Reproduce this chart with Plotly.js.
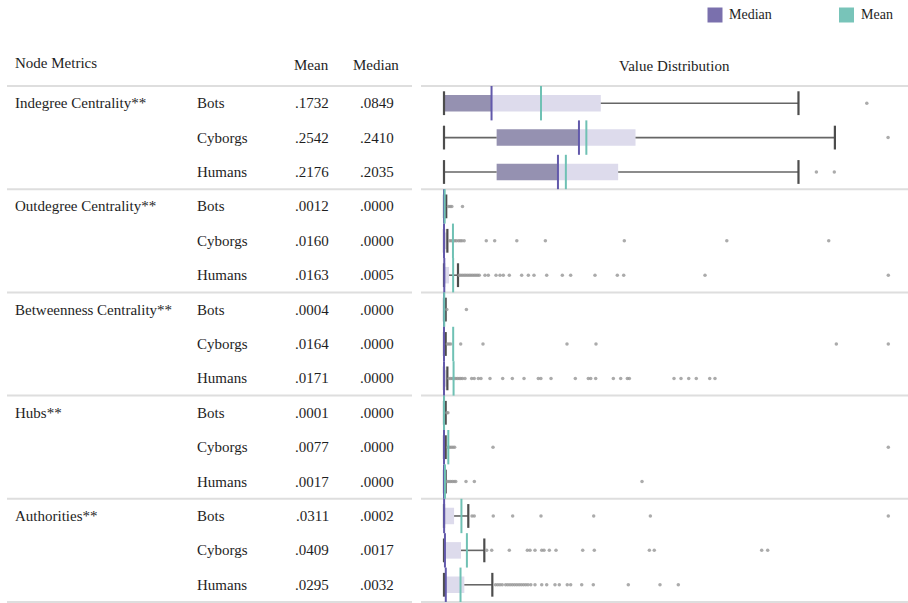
<!DOCTYPE html>
<html>
<head>
<meta charset="utf-8">
<script src="https://cdn.plot.ly/plotly-3.0.1.min.js"></script>
<style>html,body{margin:0;padding:0;background:#fff;}#chart{width:908px;height:603px;}</style>
</head>
<body>
<div id="chart"></div>
<script>
// ---------- DATA ----------
const metrics = ["Indegree Centrality**", "Outdegree Centrality**", "Betweenness Centrality**", "Hubs**", "Authorities**"];
const groups = ["Bots", "Cyborgs", "Humans"];
const headers = ["Node Metrics", "Mean", "Median", "Value Distribution"];
const legendLabels = ["Median", "Mean"];

const means = [
  [0.1732, 0.2542, 0.2176],
  [0.0012, 0.0160, 0.0163],
  [0.0004, 0.0164, 0.0171],
  [0.0001, 0.0077, 0.0017],
  [0.0311, 0.0409, 0.0295]
];
const medians = [
  [0.0849, 0.2410, 0.2035],
  [0.0000, 0.0000, 0.0005],
  [0.0000, 0.0000, 0.0000],
  [0.0000, 0.0000, 0.0000],
  [0.0002, 0.0017, 0.0032]
];
const q1 = [
  [0.000, 0.094, 0.094],
  [0, 0, 0],
  [0, 0, 0],
  [0, 0, 0],
  [0, 0, 0]
];
const q3 = [
  [0.280, 0.342, 0.311],
  [0.004, 0.006, 0.009],
  [0.003, 0.003, 0.006],
  [0.003, 0.003, 0.003],
  [0.018, 0.0304, 0.0363]
];
const whiskerLow = [
  [0, 0, 0],
  [0, 0, 0],
  [0, 0, 0],
  [0, 0, 0],
  [0, 0, 0]
];
const whiskerHigh = [
  [0.633, 0.698, 0.633],
  [0.004, 0.006, 0.025],
  [0.003, 0.003, 0.006],
  [0.003, 0.003, 0.003],
  [0.0434, 0.072, 0.0863]
];
const outliers = [
  [ // Indegree
    [0.755],
    [0.793],
    [0.665, 0.697]
  ],
  [ // Outdegree
    [0.008, 0.011, 0.014, 0.033],
    [0.010, 0.013, 0.016, 0.019, 0.022, 0.026, 0.029, 0.032, 0.036, 0.0755, 0.0905, 0.130, 0.181, 0.322, 0.505, 0.687],
    [0.027, 0.030, 0.033, 0.036, 0.039, 0.042, 0.045, 0.048, 0.051, 0.054, 0.057, 0.060, 0.063,
     0.0732, 0.0791, 0.0929, 0.100, 0.1059, 0.1166, 0.1387, 0.1506, 0.1607, 0.1834, 0.2113, 0.2262, 0.2696, 0.3095, 0.3209, 0.4661, 0.7934]
  ],
  [ // Betweenness
    [0.005, 0.040],
    [0.006, 0.009, 0.012, 0.0298, 0.0696, 0.2196, 0.2714, 0.7006, 0.7934],
    [0.009, 0.012, 0.015, 0.018, 0.021, 0.024, 0.027, 0.030, 0.033, 0.0375, 0.0494, 0.054, 0.0613, 0.066, 0.0821, 0.1048, 0.1220,
     0.1429, 0.1684, 0.173, 0.1911, 0.2345, 0.2577, 0.262, 0.2709, 0.3024, 0.3155, 0.3274, 0.331, 0.4107, 0.4232, 0.4370, 0.4505, 0.4745, 0.4839]
  ],
  [ // Hubs
    [0.005, 0.007],
    [0.007, 0.010, 0.013, 0.016, 0.019, 0.0875, 0.7934],
    [0.006, 0.009, 0.012, 0.015, 0.018, 0.021, 0.0393, 0.0542, 0.3536]
  ],
  [ // Authorities
    [0.050, 0.054, 0.088, 0.1226, 0.1732, 0.2673, 0.3685, 0.7934],
    [0.0762, 0.0852, 0.1166, 0.1488, 0.1536, 0.1625, 0.1745, 0.1786, 0.1881, 0.2000, 0.2477, 0.2684, 0.3667, 0.3755, 0.5673, 0.5780],
    [0.092, 0.096, 0.100, 0.104, 0.110, 0.114, 0.118, 0.122, 0.126, 0.130, 0.134, 0.138, 0.142, 0.146, 0.150, 0.155,
     0.1625, 0.1745, 0.1834, 0.1982, 0.2059, 0.2201, 0.2262, 0.2459, 0.2666, 0.3291, 0.3857, 0.4184]
  ]
];

// ---------- STYLE ----------
const W = 908, H = 603;
const FONT = "Liberation Serif, Times New Roman, serif";
const TXT = "#1e1e1e";
const C_DARK = "#9591b1", C_LIGHT = "#dddbec";
const C_MED = "#6259ab", C_MEAN = "#6fc1b4";
const C_MED_LEG = "#7a70ad", C_MEAN_LEG = "#78c4b9";
const SEP = "#dedede";
const px = v => v / W;

const fmt = v => v.toFixed(4).replace(/^0/, "");

// ---------- BUILD ----------
const dark = {y: [], x: [], base: []}, light = {y: [], x: [], base: []};
const wx = [], wy = [], cx = [], cy = [], ox = [], oy = [];
const mx = [], my = [], ax = [], ay = [];
const annotations = [];
const T15 = {family: FONT, size: 15, color: TXT};
const T14 = {family: FONT, size: 14, color: TXT};

metrics.forEach((m, g) => {
  annotations.push({text: m, xref: "paper", x: px(13), xanchor: "left", yref: "y", y: g * 3, yanchor: "middle", font: T15});
  groups.forEach((grp, r) => {
    const i = g * 3 + r;
    dark.y.push(i); dark.base.push(q1[g][r]); dark.x.push(Math.max(0, medians[g][r] - q1[g][r]));
    light.y.push(i); light.base.push(medians[g][r]); light.x.push(Math.max(0, q3[g][r] - medians[g][r]));
    wx.push(whiskerLow[g][r], q1[g][r], null, q3[g][r], whiskerHigh[g][r], null);
    wy.push(i, i, null, i, i, null);
    cx.push(whiskerLow[g][r], whiskerHigh[g][r]); cy.push(i, i);
    outliers[g][r].forEach(v => { ox.push(v); oy.push(i); });
    mx.push(medians[g][r], medians[g][r], null); my.push(i - 0.5, i + 0.5, null);
    ax.push(means[g][r], means[g][r], null); ay.push(i - 0.5, i + 0.5, null);
    annotations.push({text: grp, xref: "paper", x: px(195), xanchor: "left", yref: "y", y: i, yanchor: "middle", font: T15});
    annotations.push({text: fmt(means[g][r]), xref: "paper", x: px(331), xanchor: "right", yref: "y", y: i, yanchor: "middle", font: T15});
    annotations.push({text: fmt(medians[g][r]), xref: "paper", x: px(395.5), xanchor: "right", yref: "y", y: i, yanchor: "middle", font: T15});
  });
});

const HY = -1.11;
annotations.push({text: headers[0], xref: "paper", x: px(13), xanchor: "left", yref: "y", y: HY - 0.05, yanchor: "middle", font: T15});
annotations.push({text: headers[1], xref: "paper", x: px(311), xanchor: "center", yref: "y", y: HY, yanchor: "middle", font: T15});
annotations.push({text: headers[2], xref: "paper", x: px(375.5), xanchor: "center", yref: "y", y: HY, yanchor: "middle", font: T15});
annotations.push({text: headers[3], xref: "paper", x: px(674), xanchor: "center", yref: "y", y: HY + 0.02, yanchor: "middle", font: T15});

// legend texts
annotations.push({text: legendLabels[0], xref: "paper", x: px(726.5), xanchor: "left", yref: "paper", y: 1 - 15 / H, yanchor: "middle", font: T14});
annotations.push({text: legendLabels[1], xref: "paper", x: px(858.5), xanchor: "left", yref: "paper", y: 1 - 15 / H, yanchor: "middle", font: T14});
annotations.forEach(a => { a.showarrow = false; });

const shapes = [];
// separators
[-0.5, 2.5, 5.5, 8.5, 11.5, 14.5].forEach(y => {
  shapes.push({type: "line", xref: "paper", yref: "y", x0: px(7), x1: px(412), y0: y, y1: y, line: {color: SEP, width: 2}, layer: "below"});
  shapes.push({type: "line", xref: "paper", yref: "y", x0: px(421), x1: 1, y0: y, y1: y, line: {color: SEP, width: 2}, layer: "below"});
});
// legend squares
shapes.push({type: "rect", xref: "paper", yref: "paper", x0: px(707.5), x1: px(722.5), y0: 1 - 22.5 / H, y1: 1 - 7.5 / H, fillcolor: C_MED_LEG, line: {width: 0}});
shapes.push({type: "rect", xref: "paper", yref: "paper", x0: px(839), x1: px(854), y0: 1 - 22.5 / H, y1: 1 - 7.5 / H, fillcolor: C_MEAN_LEG, line: {width: 0}});

const data = [
  {type: "bar", orientation: "h", y: dark.y, x: dark.x, base: dark.base, width: 0.48, marker: {color: C_DARK, line: {width: 0}}, hoverinfo: "skip", name: "Q1-Median"},
  {type: "bar", orientation: "h", y: light.y, x: light.x, base: light.base, width: 0.48, marker: {color: C_LIGHT, line: {width: 0}}, hoverinfo: "skip", name: "Median-Q3"},
  {type: "scatter", mode: "lines", x: wx, y: wy, line: {color: "#666", width: 1.6}, hoverinfo: "skip", connectgaps: false, name: "whiskers"},
  {type: "scatter", mode: "markers", x: cx, y: cy, marker: {symbol: "line-ns-open", size: 17, color: "#4d4d4d", line: {color: "#4d4d4d", width: 2.2}}, hoverinfo: "skip", name: "caps"},
  {type: "scatter", mode: "markers", x: ox, y: oy, marker: {symbol: "circle", size: 3.5, color: "rgba(150,150,150,0.8)", line: {width: 0}}, hoverinfo: "skip", name: "outliers"},
  {type: "scatter", mode: "lines", x: mx, y: my, line: {color: C_MED, width: 2}, hoverinfo: "skip", connectgaps: false, name: legendLabels[0]},
  {type: "scatter", mode: "lines", x: ax, y: ay, line: {color: C_MEAN, width: 2}, hoverinfo: "skip", connectgaps: false, name: legendLabels[1]}
];

// x scale: value 0 at px 444, 560 px per unit
const X0 = 444, S = 560, XL = 420;
const layout = {
  width: W, height: H,
  margin: {l: 0, r: 0, t: 0, b: 0, pad: 0},
  paper_bgcolor: "#fff", plot_bgcolor: "rgba(0,0,0,0)",
  showlegend: false,
  barmode: "overlay",
  xaxis: {domain: [XL / W, 1], range: [(XL - X0) / S, (W - X0) / S], visible: false, showgrid: false, zeroline: false, fixedrange: true},
  yaxis: {range: [14.53, -3.0], visible: false, showgrid: false, zeroline: false, fixedrange: true},
  annotations: annotations,
  shapes: shapes,
  font: {family: FONT, size: 15, color: TXT}
};

Plotly.newPlot("chart", data, layout, {displayModeBar: false, staticPlot: true});
</script>
</body>
</html>
